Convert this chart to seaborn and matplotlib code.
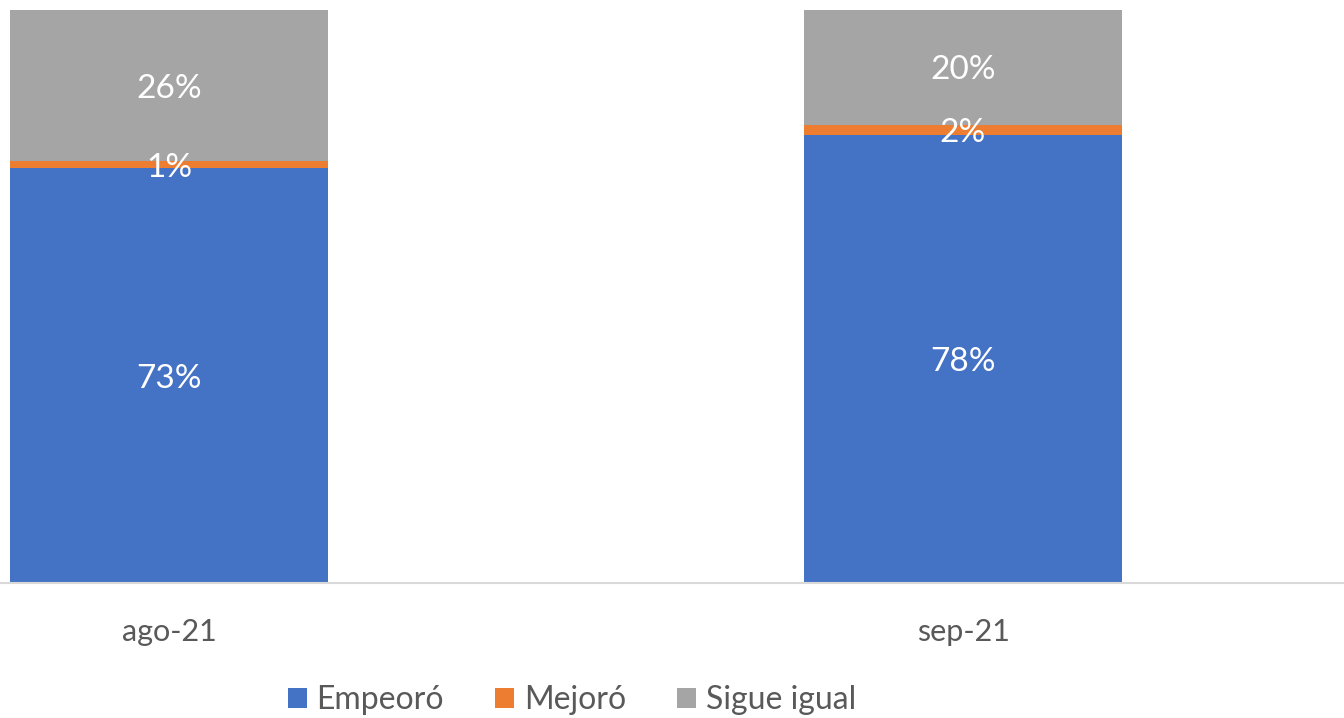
import numpy as np
import pandas as pd
import matplotlib
matplotlib.use('Agg')
import matplotlib.pyplot as plt
import seaborn as sns
from matplotlib.patches import Patch

# data
months = ['ago-21', 'sep-21']
series = ['Empeoró', 'Mejoró', 'Sigue igual']
empeoro = [0.724, 0.782]
mejoro = [0.012, 0.0175]
sigue_igual = [0.264, 0.2005]
labels_empeoro = ['73%', '78%']
labels_mejoro = ['1%', '2%']
labels_sigue = ['26%', '20%']
colors = ['#4472C4', '#ED7D31', '#A5A5A5']

sns.set_style('white')
plt.rcParams['font.family'] = ['Lato', 'DejaVu Sans']

fig = plt.figure(figsize=(13.44, 7.18), dpi=100)
ax = fig.add_axes([0, 135 / 718, 1, 573 / 718])

bottom = np.zeros(len(months))
for vals, labs, col in zip([empeoro, mejoro, sigue_igual],
                           [labels_empeoro, labels_mejoro, labels_sigue], colors):
    sns.barplot(x=months, y=vals, bottom=bottom, color=col, width=0.4,
                saturation=1, linewidth=0, ax=ax, zorder=2)
    for i, (v, l) in enumerate(zip(vals, labs)):
        # baseline sits half a digit height below the segment centre
        ax.annotate(l, (i, bottom[i] + v / 2), xytext=(0, -12),
                    textcoords='offset pixels', ha='center', va='baseline',
                    color='white', fontsize=24, zorder=3)
    bottom = bottom + np.array(vals)

ax.set_xlim(-169 / 794, (1344 - 169) / 794)
ax.set_ylim(0, 1)
ax.set_yticks([])
ax.set_ylabel('')
for s in ['top', 'left', 'right']:
    ax.spines[s].set_visible(False)
ax.spines['bottom'].set_color('#D9D9D9')
ax.spines['bottom'].set_linewidth(1.5)
ax.tick_params(axis='x', length=0, pad=25, labelsize=22, labelcolor='#595959')

handles = [Patch(facecolor=c, edgecolor='none', label=s) for c, s in zip(colors, series)]
fig.legend(handles=handles, loc='center', ncol=3, frameon=False,
           bbox_to_anchor=(572 / 1344, 1 - 700 / 718), fontsize=23,
           labelcolor='#595959', handlelength=0.6, handleheight=0.6,
           handletextpad=0.3, columnspacing=1.6)

fig.savefig('out.png', dpi=100)
